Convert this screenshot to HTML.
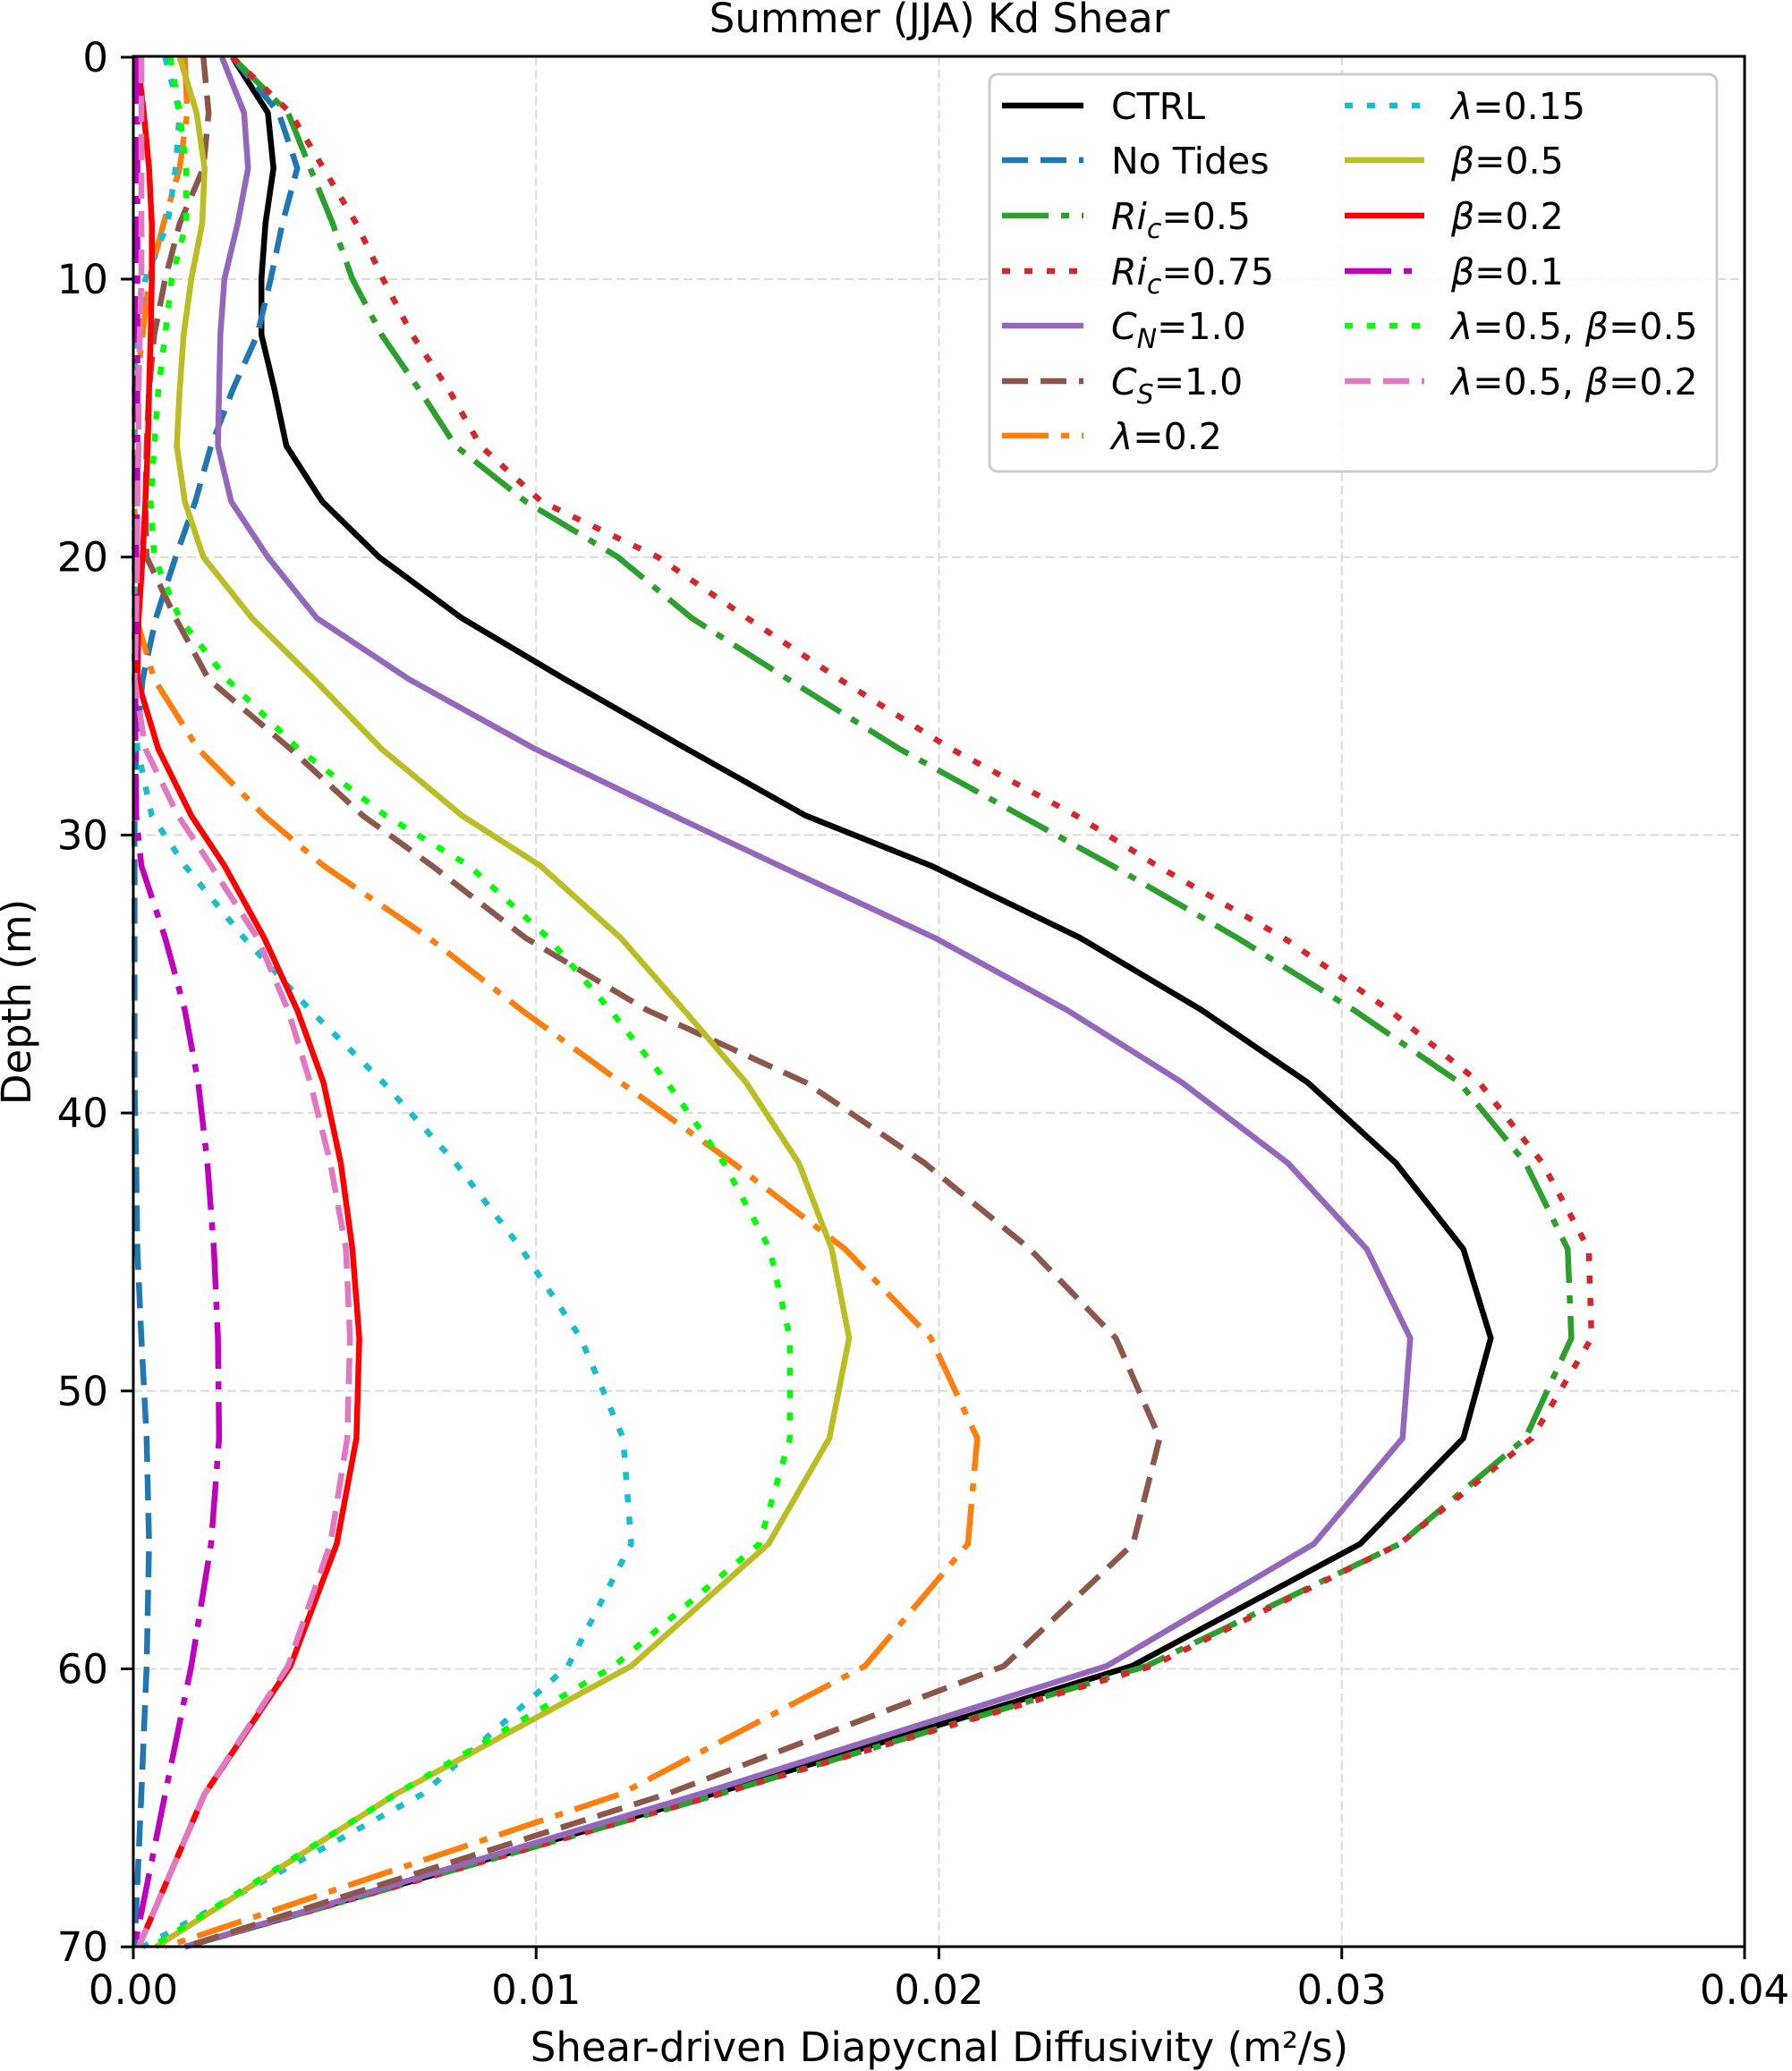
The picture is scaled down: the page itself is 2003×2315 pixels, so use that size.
<!DOCTYPE html>
<html><head><meta charset="utf-8"><style>
html,body{margin:0;padding:0;background:#fff;}
svg{display:block;font-family:"DejaVu Sans","Liberation Sans",sans-serif;}
</style></head><body>
<svg id="chart" width="2003" height="2315" viewBox="0 0 2003 2315" xmlns="http://www.w3.org/2000/svg">
<rect x="0" y="0" width="2003" height="2315" fill="#fff"/>
<g id="grid"></g>
<g id="series"></g>
<g id="axes"></g>
<text x="1050" y="36" font-size="45" text-anchor="middle">Summer (JJA) Kd Shear</text>
<text x="1050" y="2304" font-size="45" text-anchor="middle">Shear-driven Diapycnal Diffusivity (m²/s)</text>
<text transform="translate(34,1120) rotate(-90)" font-size="45" text-anchor="middle">Depth (m)</text>
<g id="legend"></g>
</svg>
<script>
const depths=[0,2.5,5,7.5,10,12,14,16,18,20,22.2,24.4,26.9,29.3,31.1,33.7,36.3,38.9,41.8,44.9,48.1,51.7,55.5,59.9,64.5,70];
// values in units of 1e-3 m^2/s
const ctrl=[2.46,3.34,3.48,3.28,3.18,3.18,3.51,3.80,4.69,6.10,8.16,10.72,13.74,16.69,19.80,23.51,26.52,29.15,31.34,33.02,33.70,33.02,30.46,24.79,14.39,1.28];
const noTides=[2.46,3.61,4.07,3.70,3.41,3.08,2.46,1.93,1.54,1.05,0.56,0.23,0.07,0.03,0.03,0.03,0.03,0.03,0.07,0.10,0.20,0.33,0.39,0.33,0.20,0.03];
const ric05=[2.46,3.84,4.39,4.95,5.44,6.16,7.11,8.00,9.74,12.03,13.87,16.26,19.02,22.03,24.30,27.41,30.30,32.92,34.56,35.61,35.70,34.56,31.44,25.15,14.56,1.28];
const ric075=[2.46,3.90,4.72,5.54,6.20,6.92,7.84,8.62,10.13,13.02,15.25,17.54,20.30,23.41,25.41,28.56,31.18,33.41,34.98,36.13,36.20,34.72,31.44,25.28,14.56,1.28];
const cn1=[2.20,2.75,2.85,2.59,2.26,2.16,2.13,2.10,2.43,3.34,4.56,6.85,9.97,13.41,16.03,19.90,23.18,26.03,28.66,30.62,31.70,31.51,29.31,24.16,14.07,1.28];
const cs1=[1.74,1.87,1.74,1.15,0.79,0.52,0.39,0.33,0.30,0.33,1.05,1.87,3.90,5.70,7.41,9.74,12.75,16.69,19.64,22.26,24.39,25.48,24.82,21.61,13.25,1.28];
const lam02=[1.28,1.34,1.15,0.75,0.39,0.23,0.07,0.03,0.03,0.03,0.07,0.52,1.61,3.25,4.72,7.34,9.64,12.10,14.89,17.67,19.80,20.95,20.72,18.16,12.10,0.79];
const lam015=[0.79,1.15,1.05,0.85,0.30,0.07,0.03,0.03,0.03,0.03,0.03,0.03,0.10,0.46,1.28,2.75,4.39,6.20,8.00,9.64,11.11,12.16,12.36,10.79,7.18,0.23];
const beta05=[1.15,1.57,1.77,1.71,1.44,1.25,1.15,1.08,1.28,1.74,2.95,4.49,6.16,8.16,10.10,12.10,13.67,15.21,16.52,17.34,17.77,17.28,15.77,12.36,6.52,0.56];
const beta02=[0.10,0.26,0.39,0.46,0.46,0.43,0.39,0.36,0.30,0.23,0.13,0.10,0.62,1.44,2.26,3.25,4.07,4.72,5.15,5.44,5.61,5.54,5.05,3.90,1.77,0.13];
const beta01=[0.10,0.10,0.10,0.10,0.10,0.10,0.10,0.10,0.10,0.07,0.07,0.05,0.05,0.07,0.20,0.79,1.28,1.61,1.84,2.00,2.10,2.13,1.93,1.44,0.79,0.03];
const lam05b05=[0.92,1.15,1.31,1.31,0.95,0.79,0.62,0.52,0.43,0.52,1.15,2.33,4.10,6.26,8.33,10.30,11.84,13.25,14.66,15.80,16.30,16.30,15.54,11.93,6.52,0.46];
const lam05b02=[0.20,0.20,0.20,0.20,0.20,0.16,0.13,0.13,0.10,0.10,0.07,0.03,0.30,1.11,1.93,3.08,3.84,4.39,4.89,5.28,5.38,5.31,4.89,3.84,1.77,0.13];
const xTicks=[0,0.01,0.02,0.03,0.04];
const xTickLabels=["0.00","0.01","0.02","0.03","0.04"];
const yTicks=[0,10,20,30,40,50,60,70];

const L=149,R=1950,T=63,B=2176;
function X(v){return L+(v*1e-3)/0.04*(R-L);}
function XT(v){return L+v/0.04*(R-L);}
function Y(d){return d<=10? 64+d*24.8 : 312+(d-10)*31.07;}
const NS="http://www.w3.org/2000/svg";
function mk(tag,attrs,parent){const e=document.createElementNS(NS,tag);for(const k in attrs)e.setAttribute(k,attrs[k]);parent.appendChild(e);return e;}

const grid=document.getElementById('grid');
xTicks.slice(1,4).forEach((t)=>{const g=mk('line',{x1:XT(t),x2:XT(t),y1:T,y2:B,stroke:'#dcdcdc','stroke-width':2,'stroke-dasharray':'10,5'},grid);

});
yTicks.slice(1,7).forEach((t)=>{const g=mk('line',{x1:L,x2:R,y1:Y(t),y2:Y(t),stroke:'#dcdcdc','stroke-width':2,'stroke-dasharray':'10,5'},grid);

});

const seriesDefs=[
 {name:'ctrl',data:ctrl,color:'#000000',dash:''},
 {name:'no-tides',data:noTides,color:'#1f77b4',dash:'29,14'},
 {name:'ric-0-5',data:ric05,color:'#2ca02c',dash:'52,14,9,14'},
 {name:'ric-0-75',data:ric075,color:'#d62728',dash:'9,16'},
 {name:'cn-1-0',data:cn1,color:'#9467bd',dash:''},
 {name:'cs-1-0',data:cs1,color:'#8c564b',dash:'29,14'},
 {name:'lambda-0-2',data:lam02,color:'#ff7f0e',dash:'52,14,9,14'},
 {name:'lambda-0-15',data:lam015,color:'#17becf',dash:'9,16'},
 {name:'beta-0-5',data:beta05,color:'#bcbd22',dash:''},
 {name:'beta-0-2',data:beta02,color:'#ff0000',dash:''},
 {name:'beta-0-1',data:beta01,color:'#bf00bf',dash:'52,14,9,14'},
 {name:'lambda-0-5-beta-0-5',data:lam05b05,color:'#00ff00',dash:'9,16'},
 {name:'lambda-0-5-beta-0-2',data:lam05b02,color:'#e377c2',dash:'29,14'}
];
const sg=document.getElementById('series');
seriesDefs.forEach(s=>{
 const pts=s.data.map((v,i)=>X(v).toFixed(1)+','+Y(depths[i]).toFixed(1)).join(' ');
 const a={points:pts,fill:'none',stroke:s.color,'stroke-width':6.5,'stroke-linejoin':'round'};
 if(s.dash)a['stroke-dasharray']=s.dash;
 const p=mk('polyline',a,sg);
 
 
});

const ax=document.getElementById('axes');
const fr=mk('rect',{x:L,y:T,width:R-L,height:B-T,fill:'none',stroke:'#000','stroke-width':3},ax);


xTicks.forEach((t,i)=>{
 const tk=mk('line',{x1:XT(t),x2:XT(t),y1:B,y2:B+14,stroke:'#000','stroke-width':3},ax);
 
 
 const tx=mk('text',{x:XT(t),y:B+64,'font-size':45,'text-anchor':'middle'},ax);
 tx.textContent=xTickLabels[i];
 
 
});
yTicks.forEach(t=>{
 const tk=mk('line',{x1:L-14,x2:L,y1:Y(t),y2:Y(t),stroke:'#000','stroke-width':3},ax);
 
 
 const tx=mk('text',{x:L-28,y:Y(t)+16,'font-size':45,'text-anchor':'end'},ax);
 tx.textContent=String(t);
 
 
});

const lg=document.getElementById('legend');
const box=mk('rect',{x:1106,y:83,width:813,height:444,rx:9,fill:'#fff','fill-opacity':0.85,stroke:'#cccccc','stroke-width':3},lg);


const labelsHTML=[
 'CTRL','No Tides',
 '<tspan font-style="italic">Ri</tspan><tspan font-style="italic" font-size="30" dy="10">c</tspan><tspan dy="-10">=0.5</tspan>',
 '<tspan font-style="italic">Ri</tspan><tspan font-style="italic" font-size="30" dy="10">c</tspan><tspan dy="-10">=0.75</tspan>',
 '<tspan font-style="italic">C</tspan><tspan font-style="italic" font-size="30" dy="10">N</tspan><tspan dy="-10">=1.0</tspan>',
 '<tspan font-style="italic">C</tspan><tspan font-style="italic" font-size="30" dy="10">S</tspan><tspan dy="-10">=1.0</tspan>',
 '<tspan font-style="italic">λ</tspan>=0.2',
 '<tspan font-style="italic">λ</tspan>=0.15',
 '<tspan font-style="italic">β</tspan>=0.5',
 '<tspan font-style="italic">β</tspan>=0.2',
 '<tspan font-style="italic">β</tspan>=0.1',
 '<tspan font-style="italic">λ</tspan>=0.5, <tspan font-style="italic">β</tspan>=0.5',
 '<tspan font-style="italic">λ</tspan>=0.5, <tspan font-style="italic">β</tspan>=0.2'
];
const rowY=[118,179,241,303,364,426,487];
seriesDefs.forEach((s,i)=>{
 const col=i<7?0:1, row=i<7?i:i-7;
 const y=rowY[row];
 const x1=col?1503:1120, x2=col?1592:1211, tx=col?1622:1242;
 const a={x1:x1,x2:x2,y1:y,y2:y,stroke:s.color,'stroke-width':6.5};
 if(s.dash)a['stroke-dasharray']=s.dash;
 const ln=mk('line',a,lg);
 
 
 const t=mk('text',{x:tx,y:y+15,'font-size':41},lg);
 t.innerHTML=labelsHTML[i];
 
 
});
</script>
</body></html>
